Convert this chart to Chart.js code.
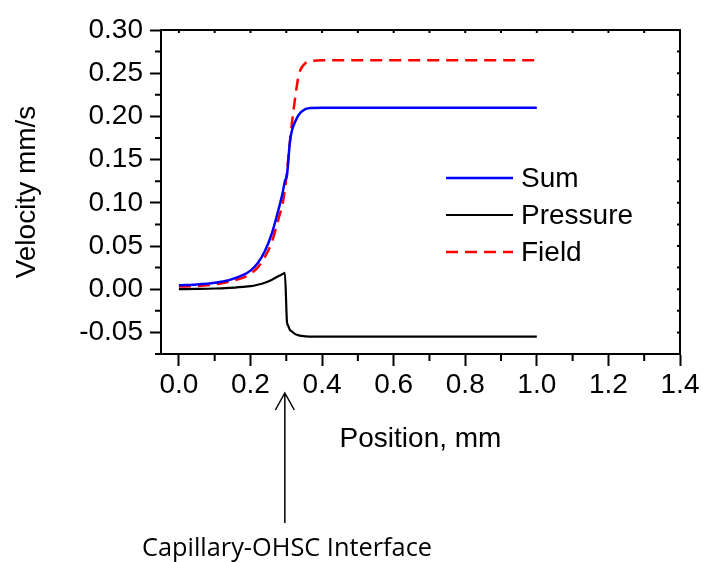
<!DOCTYPE html>
<html>
<head>
<meta charset="utf-8">
<title>Velocity vs position</title>
<script src="https://cdn.jsdelivr.net/npm/chart.js@4.4.1/dist/chart.umd.min.js"></script>
<style>
  html, body { margin: 0; padding: 0; background: #fff; }
</style>
</head>
<body>
<canvas id="velocityChart" width="703" height="562"></canvas>
<script>
// position along the channel (mm)
const positions = [0, 0.05, 0.1, 0.14, 0.18, 0.2, 0.22, 0.24, 0.26, 0.28, 0.29, 0.296,
    0.302, 0.305, 0.31, 0.316, 0.325, 0.335, 0.353, 0.37, 0.4, 0.6, 0.8, 1.0];

// velocities (mm/s)
const sumVelocity = [0.0045, 0.0055, 0.0075, 0.0105, 0.0165, 0.0215, 0.030, 0.044, 0.065, 0.095, 0.112, 0.125,
    0.132, 0.145, 0.170, 0.184, 0.194, 0.202, 0.2085, 0.2098, 0.210, 0.210, 0.210, 0.210];
const pressureVelocity = [0.0, 0.0003, 0.0008, 0.0016, 0.0028, 0.0035, 0.0052, 0.0075, 0.011, 0.0155, 0.0175, 0.0188,
    -0.038, -0.042, -0.047, -0.049, -0.052, -0.0535, -0.0545, -0.055, -0.055, -0.055, -0.055, -0.055];
const fieldVelocity = [0.003, 0.0037, 0.0055, 0.0088, 0.0135, 0.018, 0.025, 0.037, 0.055, 0.084, 0.099, 0.115,
    0.136, 0.149, 0.170, 0.193, 0.222, 0.248, 0.2615, 0.264, 0.265, 0.265, 0.265, 0.265];

const seriesNames = ['Sum', 'Pressure', 'Field'];
const xTicks = [0.0, 0.2, 0.4, 0.6, 0.8, 1.0, 1.2, 1.4];
const xMinorTicks = [0.1, 0.3, 0.5, 0.7, 0.9, 1.1, 1.3];
const yTicks = [-0.05, 0.00, 0.05, 0.10, 0.15, 0.20, 0.25, 0.30];
const yMinorTicks = [-0.075, -0.025, 0.025, 0.075, 0.125, 0.175, 0.225, 0.275];

const FONT = "'Liberation Sans', Arial, sans-serif";

const toPoints = (ys) => positions.map((x, i) => ({ x, y: ys[i] }));

// box frame, minor ticks, legend, axis titles and the interface arrow
const frame = {
    id: 'frame',
    afterDraw(chart) {
        const { ctx, chartArea: a, scales: { x, y } } = chart;
        ctx.save();
        ctx.strokeStyle = '#000';
        ctx.lineWidth = 2;
        ctx.beginPath();
        ctx.moveTo(a.left, a.top);
        ctx.lineTo(a.right, a.top);
        ctx.lineTo(a.right, a.bottom);
        ctx.stroke();

        ctx.beginPath();
        xMinorTicks.forEach(v => {
            const px = x.getPixelForValue(v);
            ctx.moveTo(px, a.bottom);
            ctx.lineTo(px, a.bottom + 7);
        });
        yMinorTicks.forEach(v => {
            const py = y.getPixelForValue(v);
            ctx.moveTo(a.left, py);
            ctx.lineTo(a.left - 6, py);
        });
        // short inner ticks on top and right
        xTicks.concat(xMinorTicks).forEach(v => {
            const px = x.getPixelForValue(v);
            ctx.moveTo(px, a.top);
            ctx.lineTo(px, a.top + 3);
        });
        yTicks.concat(yMinorTicks).forEach(v => {
            const py = y.getPixelForValue(v);
            ctx.moveTo(a.right, py);
            ctx.lineTo(a.right - 3, py);
        });
        ctx.stroke();

        // legend
        ctx.font = '28px ' + FONT;
        ctx.fillStyle = '#000';
        ctx.textBaseline = 'middle';
        ctx.textAlign = 'left';
        const legendY = [178, 215, 252];
        chart.data.datasets.forEach((ds, i) => {
            ctx.save();
            ctx.strokeStyle = ds.borderColor;
            ctx.lineWidth = ds.borderWidth;
            ctx.setLineDash(ds.borderDash || []);
            ctx.beginPath();
            ctx.moveTo(446, legendY[i]);
            ctx.lineTo(513, legendY[i]);
            ctx.stroke();
            ctx.restore();
            ctx.fillText(ds.label, 521, legendY[i] + 1);
        });

        // axis titles
        ctx.textAlign = 'center';
        ctx.textBaseline = 'alphabetic';
        ctx.fillText('Position, mm', (a.left + a.right) / 2, 447);
        ctx.save();
        ctx.translate(35, (a.top + a.bottom) / 2);
        ctx.rotate(-Math.PI / 2);
        ctx.fillText('Velocity mm/s', 0, 0);
        ctx.restore();

        // arrow pointing at the capillary / OHSC interface
        const ax = x.getPixelForValue(0.296);
        ctx.lineWidth = 1.5;
        ctx.beginPath();
        ctx.moveTo(ax, 523);
        ctx.lineTo(ax, 393);
        ctx.moveTo(ax - 9.5, 410);
        ctx.lineTo(ax, 393);
        ctx.lineTo(ax + 9.5, 410);
        ctx.stroke();

        const note = 'Capillary-OHSC Interface';
        ctx.font = "26px 'Open Sans', Lato, sans-serif";
        const w = ctx.measureText(note).width;
        ctx.save();
        ctx.translate(287, 556);
        ctx.scale(290 / w, 1);
        ctx.fillText(note, 0, 0);
        ctx.restore();
        ctx.restore();
    }
};

const ctx = document.getElementById('velocityChart').getContext('2d');
const chart = new Chart(ctx, {
    type: 'line',
    data: {
        datasets: [{
            label: seriesNames[0],
            data: toPoints(sumVelocity),
            borderColor: '#0000ff',
            borderWidth: 2.5,
            pointRadius: 0,
            cubicInterpolationMode: 'monotone'
        }, {
            label: seriesNames[1],
            data: toPoints(pressureVelocity),
            borderColor: '#000000',
            borderWidth: 2.2,
            pointRadius: 0,
            cubicInterpolationMode: 'monotone'
        }, {
            label: seriesNames[2],
            data: toPoints(fieldVelocity),
            borderColor: '#ff0000',
            borderWidth: 2.5,
            borderDash: [12, 7],
            pointRadius: 0,
            cubicInterpolationMode: 'monotone'
        }]
    },
    options: {
        responsive: false,
        animation: false,
        layout: { padding: { top: 30, right: 23, left: 0, bottom: 0 } },
        plugins: { legend: { display: false }, tooltip: { enabled: false } },
        scales: {
            x: {
                type: 'linear',
                min: -0.05,
                max: 1.4,
                afterBuildTicks: (s) => { s.ticks = xTicks.map(v => ({ value: v })); },
                afterFit: (s) => { s.height = 208; s.paddingLeft = 0; s.paddingRight = 0; },
                ticks: {
                    callback: (v) => Number(v).toFixed(1),
                    color: '#000',
                    font: { family: FONT, size: 28 },
                    padding: 2,
                    maxRotation: 0,
                    autoSkip: false
                },
                grid: { drawOnChartArea: false, drawTicks: true, tickLength: 12, tickColor: '#000', tickWidth: 2 },
                border: { display: true, color: '#000', width: 2 }
            },
            y: {
                min: -0.075,
                max: 0.30,
                afterBuildTicks: (s) => { s.ticks = yTicks.map(v => ({ value: v })); },
                afterFit: (s) => { s.width = 161; s.paddingTop = 0; s.paddingBottom = 0; },
                ticks: {
                    callback: (v) => Number(v).toFixed(2),
                    color: '#000',
                    font: { family: FONT, size: 28 },
                    padding: 7,
                    autoSkip: false
                },
                grid: { drawOnChartArea: false, drawTicks: true, tickLength: 11, tickColor: '#000', tickWidth: 2 },
                border: { display: true, color: '#000', width: 2 }
            }
        }
    },
    plugins: [frame]
});
</script>
</body>
</html>
